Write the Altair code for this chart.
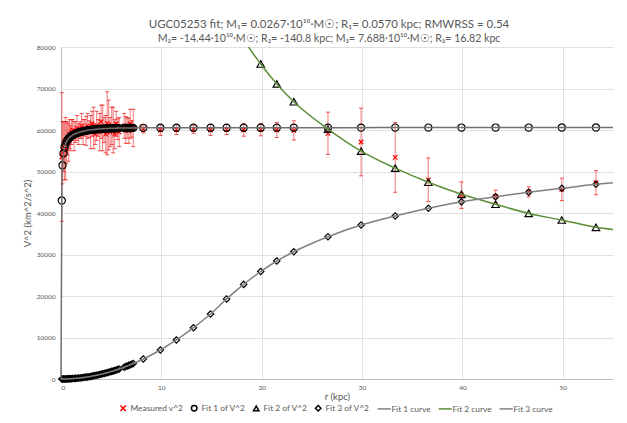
import altair as alt
import pandas as pd

# ---------------- data ----------------
r_in = [0.08, 0.15, 0.25, 0.35, 0.45, 0.55, 0.65, 0.75, 0.85, 0.95, 1.05, 1.15, 1.3, 1.45,
        1.6, 1.75, 1.9, 2.05, 2.2, 2.35, 2.5, 2.65, 2.8, 2.95, 3.1, 3.25, 3.4, 3.55, 3.7,
        3.85, 4.0, 4.15, 4.3, 4.45, 4.6, 4.75, 4.9, 5.05, 5.2, 5.35, 5.5, 5.65, 5.8, 6.3,
        6.45, 6.6, 6.75, 6.9, 7.05, 7.2]
r_out = [8.2, 9.9, 11.5, 13.2, 14.9, 16.5, 18.2, 19.9, 21.5, 23.2, 26.6, 29.9, 33.3,
         36.6, 39.9, 43.3, 46.6, 49.9, 53.3]

meas_in = [53500, 54500, 56000, 55000, 55500, 57000, 58000, 57000, 59000, 58000, 59500,
           60000, 58500, 59500, 60500, 59000, 60000, 61000, 59500, 60500, 59800, 61000,
           60200, 59500, 61500, 60500, 59000, 61000, 60500, 59500, 62000, 60500, 60000,
           59000, 61600, 61200, 59500, 61000, 60000, 59000, 61500, 60200, 59500, 61000,
           60000, 60500, 59800, 61500, 60300, 60500]
err_in = [15500, 7500, 6000, 7000, 7500, 5000, 4000, 4500, 3500, 3000, 3000, 2500, 3500,
          2500, 3000, 2500, 2000, 3000, 3000, 2000, 3500, 3000, 2000, 4000, 3000, 5000,
          2500, 3500, 2000, 4500, 4000, 5500, 3000, 4500, 7600, 6000, 3500, 4500, 5500,
          3500, 3000, 2500, 3500, 3000, 3200, 2500, 3000, 3500, 2000, 4500]
meas_out = [60300, 60000, 60100, 60200, 60000, 60100, 60000, 60100, 60000, 59900, 59200,
            57100, 53400, 48000, 44300, 44000, 45100, 45700, 47300]
err_out = [1000, 1300, 1200, 1000, 1300, 1200, 1500, 1500, 1800, 2300, 5100, 8150, 8400,
           5250, 3200, 1500, 1200, 2700, 2900]

fit1_in = [43000, 51500, 54400, 55800, 56600, 57200, 57600, 57900, 58200, 58400, 58600,
           58750, 58950, 59100, 59250, 59400, 59500, 59600, 59700, 59780, 59850, 59920,
           59980, 60030, 60080, 60120, 60160, 60200, 60230, 60260, 60290, 60310, 60330,
           60350, 60370, 60390, 60400, 60410, 60420, 60430, 60440, 60450, 60460, 60480,
           60485, 60490, 60495, 60500, 60505, 60510]
fit1_out = [60520, 60530, 60540, 60545, 60550, 60555, 60560, 60560, 60565, 60565, 60570,
            60570, 60575, 60575, 60580, 60580, 60580, 60585, 60585]

fit3_in = [0, 2, 5, 9, 15, 22, 30, 41, 52, 65, 79, 95, 122, 151, 184, 220, 260, 303, 348,
           398, 450, 506, 564, 627, 692, 761, 832, 907, 986, 1067, 1152, 1240, 1331, 1426,
           1524, 1625, 1729, 1836, 1947, 2061, 2178, 2298, 2422, 2858, 2995, 3136, 3281,
           3428, 3579, 3732]
fit3_out = [4820, 6990, 9400, 12360, 15660, 19300, 22800, 25900, 28430, 30670, 34290,
            37110, 39280, 41130, 42720, 43930, 44990, 45950, 46910]

r_fit2 = [19.9, 21.5, 23.2, 26.6, 29.9, 33.3, 36.6, 39.9, 43.3, 46.6, 49.9, 53.3]
fit2_v = [75900, 71100, 66800, 60200, 54900, 50800, 47400, 44500, 42100, 39900, 38300, 36550]

curve2_head_r = [17.0, 18.2]
curve2_head_v = [86600, 81800]
curve_end_r = 55.0
curve1_end_v = 60590
curve2_end_v = 36000
curve3_end_v = 47300

series_names = ["Measured v^2", "Fit 1 of V^2", "Fit 2 of V^2", "Fit 3 of V^2",
                "Fit 1 curve", "Fit 2 curve", "Fit 3 curve"]

title_line1 = "UGC05253 fit; M\u2081= 0.0267\u00b710\u00b9\u2070\u00b7M\u2609; R\u2081= 0.0570 kpc; RMWRSS = 0.54"
title_line2 = "M\u2082= -14.44\u00b710\u00b9\u2070\u00b7M\u2609; R\u2082= -140.8 kpc; M\u2083= 7.688\u00b710\u00b9\u2070\u00b7M\u2609; R\u2083= 16.82 kpc"

# ---------------- tables ----------------
r_meas = r_in + r_out
meas_v = meas_in + meas_out
meas_err = err_in + err_out
df_meas = pd.DataFrame({
    "r": r_meas,
    "v": meas_v,
    "lo": [a - b for a, b in zip(meas_v, meas_err)],
    "hi": [a + b for a, b in zip(meas_v, meas_err)],
    "series": "Measured v^2",
})
df_fit1 = pd.DataFrame({"r": r_meas, "v": fit1_in + fit1_out})
df_fit3 = pd.DataFrame({"r": r_meas, "v": fit3_in + fit3_out})
df_fit2 = pd.DataFrame({"r": r_fit2, "v": fit2_v})
df_c1 = pd.DataFrame({"r": [0.0] + r_meas + [curve_end_r],
                      "v": [0] + fit1_in + fit1_out + [curve1_end_v]})
df_c2 = pd.DataFrame({"r": curve2_head_r + r_fit2 + [curve_end_r],
                      "v": curve2_head_v + fit2_v + [curve2_end_v]})
df_c3 = pd.DataFrame({"r": [0.0] + r_meas + [curve_end_r],
                      "v": [0] + fit3_in + fit3_out + [curve3_end_v]})

# ---------------- styling ----------------
FONT = "Lato"
GREY_TXT = "#595959"
X_PATH = "M-1,-1L1,1M-1,1L1,-1"
LINE_PATH = "M-2.4,0L2.4,0"
colors = ["#ff0000", "#000000", "#000000", "#000000", "#808080", "#5b8f3a", "#808080"]
shapes = [X_PATH, "circle", "triangle-up", "diamond", LINE_PATH, LINE_PATH, LINE_PATH]

xenc = alt.X("r:Q", scale=alt.Scale(domain=[0, 55], nice=False),
             axis=alt.Axis(values=[0, 10, 20, 30, 40, 50], title="r (kpc)", format="d"))
yenc = alt.Y("v:Q", scale=alt.Scale(domain=[0, 80000], nice=False),
             axis=alt.Axis(values=list(range(0, 80001, 10000)), title="V^2 (km^2/s^2)", format="d"))

legend = alt.Legend(title=None, orient="none", legendX=58, legendY=357, direction="horizontal",
                    columns=7, symbolSize=30, symbolStrokeWidth=1.5, labelFont=FONT,
                    labelFontSize=8.4, labelColor=GREY_TXT, labelOffset=3, columnPadding=4,
                    padding=0, symbolOpacity=1)

err_rule = alt.Chart(df_meas).mark_rule(color="#ee2222", opacity=0.5, strokeWidth=1.2).encode(
    x=xenc, y=alt.Y("lo:Q", scale=alt.Scale(domain=[0, 80000], nice=False)), y2="hi:Q")
cap_lo = alt.Chart(df_meas).mark_tick(color="#ee2222", opacity=0.8, orient="horizontal",
                                      size=4, thickness=1).encode(x=xenc, y=alt.Y("lo:Q"))
cap_hi = alt.Chart(df_meas).mark_tick(color="#ee2222", opacity=0.8, orient="horizontal",
                                      size=4, thickness=1).encode(x=xenc, y=alt.Y("hi:Q"))

meas = alt.Chart(df_meas).mark_point(filled=False, size=20, strokeWidth=1.2, opacity=1).encode(
    x=xenc, y=yenc,
    color=alt.Color("series:N", scale=alt.Scale(domain=series_names, range=colors), legend=legend),
    shape=alt.Shape("series:N", scale=alt.Scale(domain=series_names, range=shapes), legend=legend),
)

pts1 = alt.Chart(df_fit1).mark_point(shape="circle", filled=False, color="black", size=52,
                                     strokeWidth=1.2, opacity=1).encode(x=xenc, y=yenc)
pts2 = alt.Chart(df_fit2).mark_point(shape="triangle-up", filled=False, color="black", size=55,
                                     strokeWidth=1.2, opacity=1).encode(x=xenc, y=yenc)
pts3 = alt.Chart(df_fit3).mark_point(shape="diamond", filled=False, color="black", size=40,
                                     strokeWidth=1.2, opacity=1).encode(x=xenc, y=yenc)

c1 = alt.Chart(df_c1).mark_line(color="#707070", strokeWidth=1.5, interpolate="monotone").encode(
    x=xenc, y=yenc)
c2 = alt.Chart(df_c2).mark_line(color="#5b8f3a", strokeWidth=1.5, interpolate="monotone",
                                clip=True).encode(x=xenc, y=yenc)
c3 = alt.Chart(df_c3).mark_line(color="#808080", strokeWidth=1.5, interpolate="monotone").encode(
    x=xenc, y=yenc)

chart = alt.layer(err_rule, cap_lo, cap_hi, meas, pts1, pts2, pts3, c1, c2, c3).properties(
    width=552, height=332,
    title=alt.TitleParams(text=title_line1, subtitle=title_line2, font=FONT, fontSize=11.5,
                          fontWeight="normal", color=GREY_TXT, subtitleFont=FONT,
                          subtitleFontSize=10.6, subtitleColor=GREY_TXT, subtitlePadding=4,
                          anchor="middle", offset=-1, dx=-8),
    autosize=alt.AutoSizeParams(type="none"),
    padding={"left": 53, "top": 39, "right": 6, "bottom": 36},
).configure_view(stroke=None).configure_axis(
    labelFont=FONT, labelFontSize=6.5, labelColor=GREY_TXT, titleFont=FONT, titleFontSize=9.5,
    titleColor=GREY_TXT, titleFontWeight="normal", gridColor="#e0e0e0", gridWidth=1,
    domainColor="#bfbfbf", domainWidth=1, ticks=False,
).configure_axisX(labelPadding=5, titlePadding=1).configure_axisY(labelPadding=6, titlePadding=4)

chart.save("out.html", embed_options={"renderer": "svg", "actions": False})
